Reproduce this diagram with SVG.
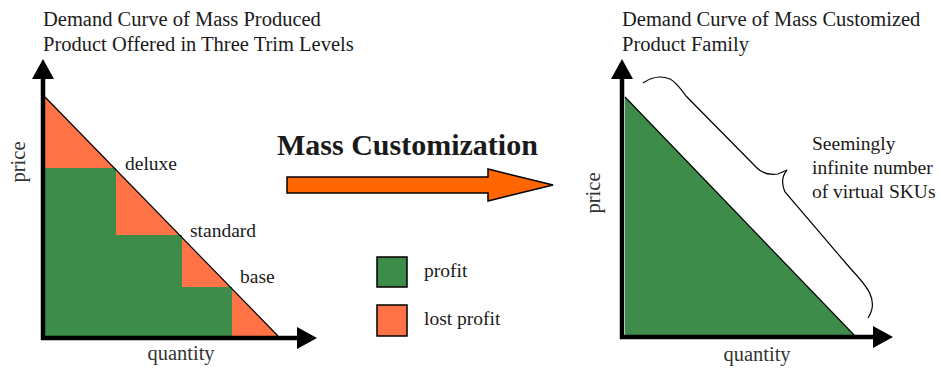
<svg xmlns="http://www.w3.org/2000/svg" width="941" height="368" viewBox="0 0 941 368">
<style>
  text { font-family: "Liberation Serif", "Times New Roman", serif; fill: #1a1a1a; }
  .title { font-size: 20.5px; }
  .lbl { font-size: 19.5px; }
  .axlbl { font-size: 20.5px; fill: #333; }
  .green { fill: #3d8c4a; }
  .orange { fill: #ff7346; }
  .axis { stroke: #000; stroke-width: 4.5; fill: none; }
  .head { fill: #000; }
  .curve { stroke: #000; stroke-width: 1.2; fill: none; }
</style>

<g id="left-chart">
  <text class="title" x="43" y="26">Demand Curve of Mass Produced</text>
  <text class="title" x="43" y="51">Product Offered in Three Trim Levels</text>
  <polygon class="orange" points="45,97 278,336 45,336"/>
  <polygon class="green" points="45,168 116,168 116,235 182,235 182,287 232,287 232,336 45,336"/>
  <line class="curve" x1="45" y1="97" x2="278" y2="336"/>
  <line class="axis" x1="43" y1="74" x2="43" y2="340"/>
  <line class="axis" x1="41" y1="338" x2="300" y2="338"/>
  <polygon class="head" points="43,59 54,79 32,79"/>
  <polygon class="head" points="317,338 297,327 297,349"/>
  <text class="lbl" x="125" y="170">deluxe</text>
  <text class="lbl" x="190" y="237">standard</text>
  <text class="lbl" x="240" y="283">base</text>
  <text class="axlbl" transform="translate(25,162) rotate(-90)" text-anchor="middle">price</text>
  <text class="axlbl" x="181" y="360" text-anchor="middle">quantity</text>
</g>

<g id="title-center">
  <text x="277" y="155" font-size="30" font-weight="bold">Mass Customization</text>
</g>

<g id="legend">
  <rect x="377" y="257" width="30" height="30" class="green" stroke="#000" stroke-width="1.5"/>
  <text class="lbl" x="424" y="277">profit</text>
  <rect x="377" y="305" width="30" height="31" class="orange" stroke="#000" stroke-width="1.5"/>
  <text class="lbl" x="424" y="325">lost profit</text>
</g>

<g id="right-chart">
  <text class="title" x="622" y="26">Demand Curve of Mass Customized</text>
  <text class="title" x="622" y="51">Product Family</text>
  <polygon class="green" points="625,97 855,336 625,336"/>
  <line class="curve" x1="625" y1="97" x2="855" y2="336"/>
  <line class="axis" x1="622" y1="74" x2="622" y2="339"/>
  <line class="axis" x1="620" y1="337" x2="876" y2="337"/>
  <polygon class="head" points="622,59 633,79 611,79"/>
  <polygon class="head" points="893,337 873,326 873,348"/>
  <path class="curve" d="M643,83 C650,78 660,75 670,79 C676,82 680,88 686,96 L757,168 C762,173 770,175 778,174 L787,170 C782,176 781,183 785,192 L850,268 C866,285 880,300 868,318"/>
  <text class="lbl" x="812" y="150">Seemingly</text>
  <text class="lbl" x="812" y="174">infinite number</text>
  <text class="lbl" x="812" y="198">of virtual SKUs</text>
  <text class="axlbl" transform="translate(600,193) rotate(-90)" text-anchor="middle">price</text>
  <text class="axlbl" x="757" y="361" text-anchor="middle">quantity</text>
</g>

<g id="connectors">
  <polygon points="287,177 488,177 488,169 553,185 488,201 488,193 287,193" fill="#ff6600" stroke="#000" stroke-width="1.5" stroke-linejoin="miter"/>
</g>
</svg>
